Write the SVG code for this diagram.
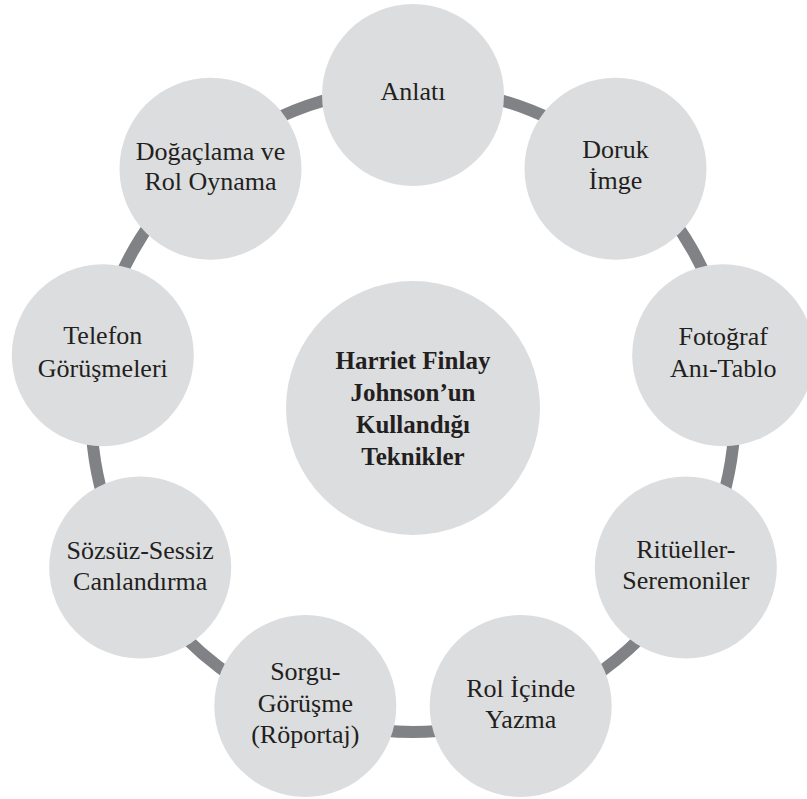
<svg xmlns="http://www.w3.org/2000/svg" width="807" height="799" viewBox="0 0 807 799">
<style>
.node{fill:#dcdddf;}
.ring{fill:none;stroke:#808285;stroke-width:12;}
.t{font-family:"Liberation Serif","Times New Roman",serif;font-size:26px;fill:#231f20;text-anchor:middle;}
.b{font-weight:bold;font-size:25px;}
</style>
<rect width="807" height="799" fill="#ffffff"/>
<g id="connectors">
<circle class="ring" cx="413" cy="410" r="322"/>
</g>
<g id="center">
<circle class="node" cx="413" cy="408" r="127"/>
<text class="t b" x="413" y="369">Harriet Finlay</text>
<text class="t b" x="413" y="401">Johnson’un</text>
<text class="t b" x="413" y="433">Kullandığı</text>
<text class="t b" x="413" y="465">Teknikler</text>
</g>
<g id="anlati">
<circle class="node" cx="413" cy="95" r="91"/>
<text class="t" x="413" y="100">Anlatı</text>
</g>
<g id="doruk">
<circle class="node" cx="615.5" cy="168.7" r="91"/>
<text class="t" x="615.5" y="158">Doruk</text>
<text class="t" x="615.5" y="189">İmge</text>
</g>
<g id="fotograf">
<circle class="node" cx="723.2" cy="355.3" r="91"/>
<text class="t" x="723.2" y="345">Fotoğraf</text>
<text class="t" x="723.2" y="377">Anı-Tablo</text>
</g>
<g id="ritueller">
<circle class="node" cx="685.8" cy="567.5" r="91"/>
<text class="t" x="685.8" y="558">Ritüeller-</text>
<text class="t" x="685.8" y="589">Seremoniler</text>
</g>
<g id="rol-icinde">
<circle class="node" cx="520.7" cy="706" r="91"/>
<text class="t" x="520.7" y="697">Rol İçinde</text>
<text class="t" x="520.7" y="728">Yazma</text>
</g>
<g id="sorgu">
<circle class="node" cx="305.3" cy="706" r="91"/>
<text class="t" x="305.3" y="680">Sorgu-</text>
<text class="t" x="305.3" y="712">Görüşme</text>
<text class="t" x="305.3" y="743">(Röportaj)</text>
</g>
<g id="sozsuz">
<circle class="node" cx="140.2" cy="567.5" r="91"/>
<text class="t" x="140.2" y="559">Sözsüz-Sessiz</text>
<text class="t" x="140.2" y="590">Canlandırma</text>
</g>
<g id="telefon">
<circle class="node" cx="102.8" cy="355.3" r="91"/>
<text class="t" x="102.8" y="344">Telefon</text>
<text class="t" x="102.8" y="377">Görüşmeleri</text>
</g>
<g id="dogaclama">
<circle class="node" cx="210.5" cy="168.7" r="91"/>
<text class="t" x="210.5" y="160">Doğaçlama ve</text>
<text class="t" x="210.5" y="190">Rol Oynama</text>
</g>
</svg>
